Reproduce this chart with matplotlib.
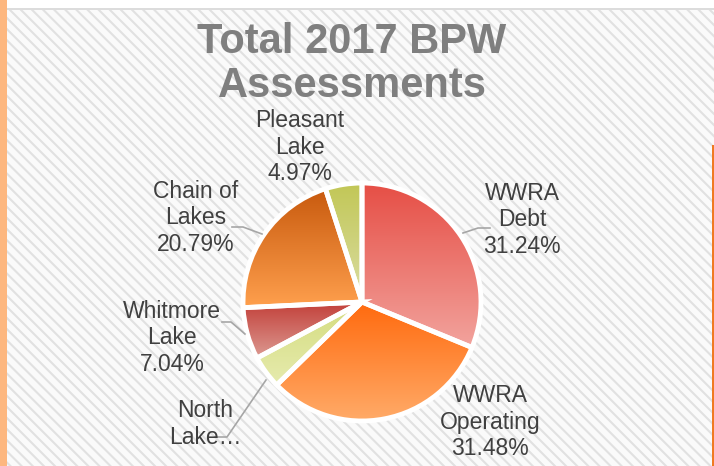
import numpy as np
import matplotlib
matplotlib.use("Agg")
import matplotlib.pyplot as plt
from matplotlib.patches import Rectangle
from matplotlib.colors import to_rgb

plt.rcParams['font.family'] = ['Liberation Sans', 'DejaVu Sans']
plt.rcParams['hatch.linewidth'] = 1.5

# ---- data ----
categories = ["WWRA Debt", "WWRA Operating", "North Lake", "Whitmore Lake",
              "Chain of Lakes", "Pleasant Lake"]
shares = [31.24, 31.48, 4.48, 7.04, 20.79, 4.97]
label_texts = ["WWRA\nDebt\n31.24%", "WWRA\nOperating\n31.48%", "North\nLake…",
               "Whitmore\nLake\n7.04%", "Chain of\nLakes\n20.79%", "Pleasant\nLake\n4.97%"]
title = "Total 2017 BPW\nAssessments"

# ---- style ----
grad_top = ["#E64E45", "#FF6A0E", "#D4DC7E", "#C23E38", "#C85A0E", "#C2C756"]
grad_bot = ["#F2A39D", "#FFAC6A", "#E6EBAE", "#DC9A92", "#FFA04E", "#DADDA4"]
label_pos = [(522, 220), (490, 422), (205, 424), (172, 338), (196, 218), (300, 147)]
leaders = [[(463, 233), (478, 228), (490, 228)],
           [],
           [(266, 380), (227, 437), (215, 437)],
           [(245, 334), (231, 322), (222, 322)],
           [(262, 234), (243, 227), (232, 227)],
           []]

W, H = 714, 466
fig = plt.figure(figsize=(W / 100, H / 100), dpi=100)
ax = fig.add_axes([0, 0, 1, 1])

def fy(y):
    return H - y

# background
ax.add_patch(Rectangle((0, 0), W, H, facecolor='white', edgecolor='none', zorder=0))
ax.add_patch(Rectangle((0, 0), W, fy(10), facecolor='#FAFAFA', edgecolor='#E1E1E1',
                       linewidth=0, hatch='\\\\\\', zorder=0.5))
ax.add_patch(Rectangle((0, fy(10)), W, 2, facecolor='#DCDCDC', edgecolor='none', zorder=1))
ax.add_patch(Rectangle((0, 0), 7, H, facecolor='#FDB77F', edgecolor='none', zorder=1))
ax.add_patch(Rectangle((711.5, 0), 2.5, fy(145), facecolor='#F07A22', edgecolor='none', zorder=1))

# pie
cx, cy, r = 362, fy(302), 119
wedges, _ = ax.pie(shares, startangle=90, counterclock=False, center=(cx, cy), radius=r,
                   wedgeprops=dict(edgecolor='white', linewidth=3.5), frame=True)

for w, ct, cb in zip(wedges, grad_top, grad_bot):
    pts = w.get_patch_transform().transform(w.get_path().vertices)
    x0, x1 = pts[:, 0].min(), pts[:, 0].max()
    y0, y1 = pts[:, 1].min(), pts[:, 1].max()
    t = np.linspace(0, 1, 256)[:, None, None]
    c0 = np.array(to_rgb(cb))[None, None, :]
    c1 = np.array(to_rgb(ct))[None, None, :]
    img = np.repeat(c0 * (1 - t) + c1 * t, 2, axis=1)
    im = ax.imshow(img, extent=(x0, x1, y0, y1), origin='lower', aspect='auto',
                   zorder=2, interpolation='bilinear')
    im.set_clip_path(w)
    w.set_facecolor('none')
    w.set_zorder(3)

ax.set_xlim(0, W)
ax.set_ylim(0, H)
ax.axis('off')

# labels
for txt, (lx, ly) in zip(label_texts, label_pos):
    ax.text(lx, fy(ly), txt, ha='center', va='center', fontsize=16.5,
            color='#404040', linespacing=1.2, zorder=5)
for seg in leaders:
    if seg:
        xs = [p[0] for p in seg]
        ys = [fy(p[1]) for p in seg]
        ax.plot(xs, ys, color='#A6A6A6', lw=1.2, zorder=4)

ax.text(352, fy(64), title, ha='center', va='center', fontsize=30, fontweight='bold',
        color='#7F7F7F', linespacing=1.15, zorder=5)

fig.savefig("out.png", dpi=100)
